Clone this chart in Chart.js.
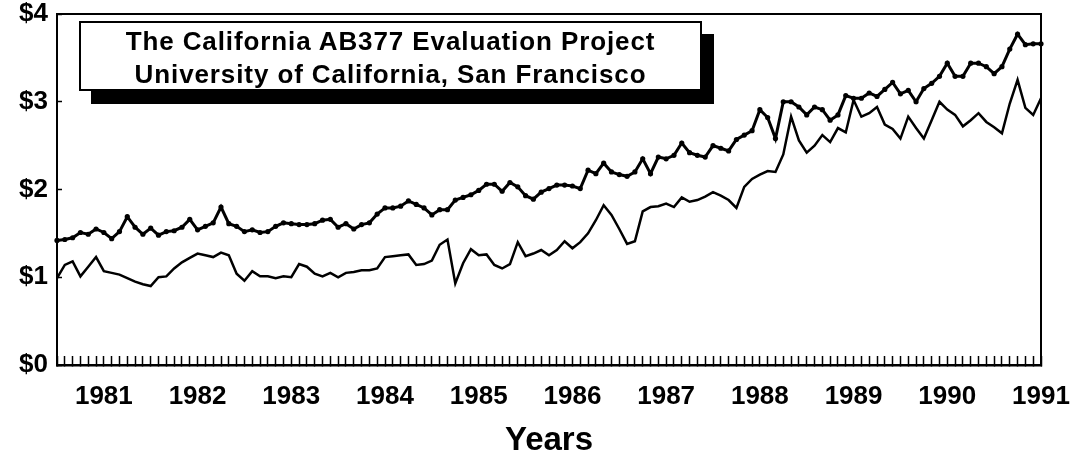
<!DOCTYPE html>
<html>
<head>
<meta charset="utf-8">
<script src="https://cdn.jsdelivr.net/npm/chart.js@4"></script>
<style>
html, body { margin: 0; padding: 0; background: #fff; }
#wrap { position: relative; width: 1083px; height: 453px; }
#titleBox {
  position: absolute; left: 79px; top: 21px; width: 619px; height: 64px;
  padding-top: 2px;
  border: 2px solid #000; background: #fff;
  box-shadow: 12px 13px 0 0 #000;
  font: bold 26px "Liberation Sans", Arial, sans-serif;
  letter-spacing: 0.9px; text-align: center; line-height: 33px; color: #000;
}
</style>
</head>
<body>
<div id="wrap">
  <canvas id="myChart" width="1083" height="453"></canvas>
  <div id="titleBox">The California AB377 Evaluation Project<br>University of California, San Francisco</div>
</div>
<script>
// monthly categories, Jul 1980 .. Jan 1991
var months = [];
for (var y = 1980; y <= 1991; y++) {
    for (var m = 1; m <= 12; m++) {
        if ((y == 1980 && m < 7) || (y == 1991 && m > 1)) continue;
        months.push(y + "-" + (m < 10 ? "0" + m : m));
    }
}
var yTicks = [0, 1, 2, 3, 4];

// upper series (dots)
var upper = [
  1.42,1.43,1.45,1.51,1.49,1.55,1.51,1.44,1.52,1.69,1.57,1.49,
  1.56,1.48,1.52,1.53,1.57,1.66,1.54,1.58,1.62,1.80,1.61,1.58,
  1.52,1.54,1.51,1.52,1.58,1.62,1.61,1.60,1.60,1.61,1.65,1.66,
  1.57,1.61,1.55,1.60,1.62,1.72,1.79,1.79,1.81,1.87,1.83,1.79,
  1.71,1.77,1.77,1.88,1.91,1.94,1.99,2.06,2.06,1.98,2.08,2.03,
  1.93,1.89,1.97,2.01,2.05,2.05,2.04,2.01,2.22,2.18,2.30,2.20,
  2.17,2.15,2.20,2.35,2.18,2.37,2.35,2.39,2.53,2.42,2.39,2.37,
  2.50,2.47,2.44,2.57,2.62,2.67,2.91,2.82,2.58,3.00,3.00,2.94,
  2.85,2.94,2.91,2.79,2.85,3.07,3.04,3.04,3.10,3.06,3.14,3.22,
  3.09,3.13,3.00,3.15,3.21,3.29,3.44,3.29,3.29,3.44,3.44,3.40,
  3.32,3.40,3.60,3.77,3.65,3.66,3.66
];
// lower series (plain line)
var lower = [
  0.99,1.14,1.18,1.01,1.12,1.23,1.07,1.05,1.03,0.99,0.95,0.92,
  0.90,1.00,1.01,1.10,1.17,1.22,1.27,1.25,1.23,1.28,1.25,1.04,
  0.96,1.07,1.01,1.01,0.99,1.01,1.00,1.15,1.12,1.04,1.01,1.05,
  1.00,1.05,1.06,1.08,1.08,1.10,1.23,1.24,1.25,1.26,1.14,1.15,
  1.19,1.37,1.43,0.93,1.16,1.32,1.25,1.26,1.14,1.10,1.15,1.40,
  1.24,1.27,1.31,1.25,1.31,1.41,1.33,1.40,1.50,1.65,1.82,1.71,
  1.55,1.38,1.41,1.75,1.80,1.81,1.84,1.80,1.91,1.86,1.88,1.92,
  1.97,1.93,1.88,1.79,2.03,2.12,2.17,2.21,2.20,2.40,2.83,2.56,
  2.42,2.50,2.62,2.54,2.70,2.65,3.02,2.83,2.87,2.94,2.74,2.69,
  2.58,2.83,2.70,2.58,2.79,3.00,2.91,2.85,2.72,2.79,2.87,2.77,
  2.71,2.64,2.98,3.25,2.93,2.85,3.04
];

var fontFam = '"Liberation Sans", Arial, sans-serif';

// box round the plot area
var frame = {
    id: "frame",
    afterDatasetsDraw: function(chart) {
        var ctx = chart.ctx, a = chart.chartArea;
        ctx.save();
        ctx.strokeStyle = "#000";
        ctx.lineWidth = 2;
        ctx.strokeRect(a.left, a.top, a.right - a.left, a.bottom - a.top);
        ctx.restore();
    }
};

var ctx = document.getElementById("myChart");
var myLineChart = new Chart(ctx, {
    type: "line",
    data: {
        labels: months,
        datasets: [
            {
                label: "upper",
                data: upper,
                borderColor: "#000",
                backgroundColor: "#000",
                borderWidth: 3,
                pointRadius: 2.6,
                pointBorderWidth: 0,
                pointBackgroundColor: "#000",
                tension: 0,
                fill: false
            },
            {
                label: "lower",
                data: lower,
                borderColor: "#000",
                borderWidth: 2.5,
                pointRadius: 0,
                tension: 0,
                fill: false
            }
        ]
    },
    options: {
        responsive: false,
        animation: false,
        layout: { padding: { top: 14, right: 42, left: 0, bottom: 0 } },
        plugins: { legend: { display: false }, tooltip: { enabled: false } },
        scales: {
            x: {
                type: "category",
                offset: false,
                grid: { drawOnChartArea: false, drawTicks: true, tickLength: -9, tickColor: "#000", tickWidth: 1.5 },
                border: { color: "#000", width: 2.5 },
                ticks: {
                    autoSkip: false, maxRotation: 0, padding: 25, color: "#000",
                    font: { family: fontFam, size: 26, weight: "bold" },
                    callback: function(v, i) {
                        var l = months[i];
                        return l.slice(5) == "01" ? l.slice(0, 4) : "";
                    }
                },
                title: {
                    display: true, text: "Years", color: "#000",
                    font: { family: fontFam, size: 33, weight: "bold", lineHeight: 1 },
                    padding: { top: 0, bottom: -4 }
                },
                afterFit: function(s) {
                    s.height = 88;
                    s.paddingLeft = 0; s.paddingRight = 0;
                }
            },
            y: {
                min: 0, max: 4,
                afterBuildTicks: function(s) { s.ticks = yTicks.map(function(v) { return { value: v }; }); },
                grid: { drawOnChartArea: false, tickLength: -5, tickColor: "#000", tickWidth: 1.5 },
                border: { color: "#000", width: 2 },
                ticks: {
                    padding: 14, color: "#000",
                    font: { family: fontFam, size: 26, weight: "bold" },
                    callback: function(v) { return "$" + v; }
                },
                afterFit: function(s) {
                    s.width = 57;
                    s.paddingTop = 0; s.paddingBottom = 0;
                }
            }
        }
    },
    plugins: [frame]
});
</script>
</body>
</html>
